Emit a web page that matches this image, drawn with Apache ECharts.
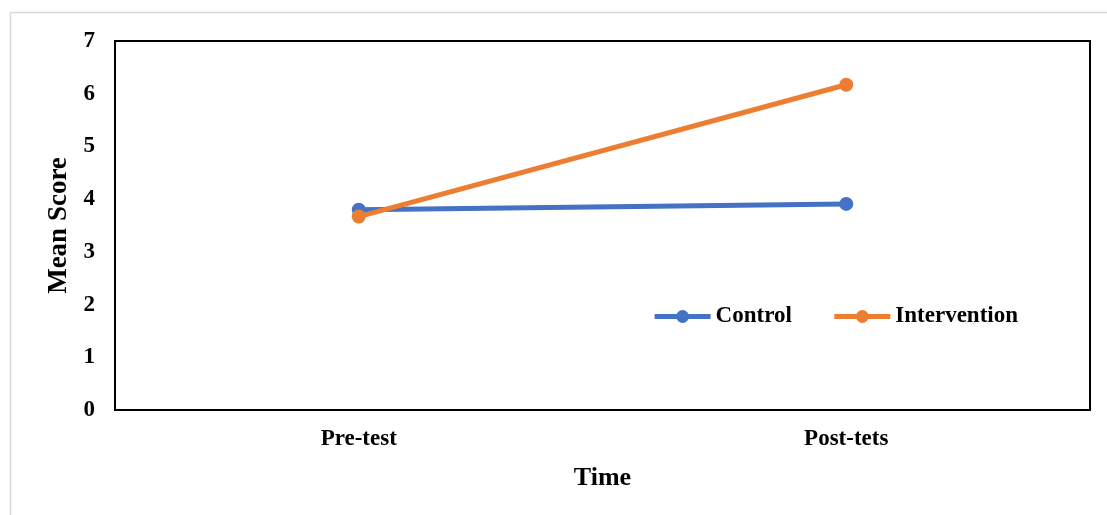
<!DOCTYPE html>
<html>
<head>
<meta charset="utf-8">
<script src="https://cdn.jsdelivr.net/npm/echarts@6/dist/echarts.min.js"></script>
<style>
  html, body { margin: 0; padding: 0; background: #fff; }
  #chart { width: 1107px; height: 515px; }
</style>
</head>
<body>
<div id="chart"></div>
<script>
// Mean scores by time point for the two groups
const timePoints = ['Pre-test', 'Post-tets'];
const controlScores = [3.80, 3.91];
const interventionScores = [3.67, 6.17];
const yTicks = [0, 1, 2, 3, 4, 5, 6, 7];

const FONT = '"Liberation Serif", "Times New Roman", serif';
const chart = echarts.init(document.getElementById('chart'), null, { renderer: 'canvas' });

chart.setOption({
  backgroundColor: '#ffffff',
  animation: false,
  graphic: [{
    type: 'rect',
    shape: { x: 10.5, y: 12.5, width: 1110, height: 520 },
    style: { fill: 'none', stroke: '#d9d9d9', lineWidth: 1.5 },
    silent: true
  }],
  grid: { left: 115, right: 17, top: 41, bottom: 105, show: true, borderColor: '#000', borderWidth: 2, backgroundColor: 'transparent' },
  legend: {
    right: 84,
    top: 300,
    itemGap: 40,
    itemWidth: 56,
    itemHeight: 16,
    lineStyle: { width: 5 },
    textStyle: { fontFamily: FONT, fontWeight: 'bold', fontSize: 23, color: '#000' },
    data: ['Control', 'Intervention']
  },
  xAxis: {
    type: 'category',
    data: timePoints,
    boundaryGap: true,
    name: 'Time',
    nameLocation: 'middle',
    nameGap: 55,
    nameTextStyle: { fontFamily: FONT, fontWeight: 'bold', fontSize: 26, color: '#000' },
    axisLine: { show: true, lineStyle: { color: '#000', width: 2 } },
    axisTick: { show: false },
    axisLabel: { fontFamily: FONT, fontWeight: 'bold', fontSize: 23, color: '#000', margin: 18 }
  },
  yAxis: {
    type: 'value',
    min: yTicks[0],
    max: yTicks[yTicks.length - 1],
    interval: 1,
    name: 'Mean Score',
    nameLocation: 'middle',
    nameGap: 40,
    nameRotate: 90,
    nameTextStyle: { fontFamily: FONT, fontWeight: 'bold', fontSize: 27, color: '#000' },
    axisLine: { show: true, lineStyle: { color: '#000', width: 2 } },
    axisTick: { show: false },
    splitLine: { show: false },
    axisLabel: { fontFamily: FONT, fontWeight: 'bold', fontSize: 23, color: '#000', margin: 20 }
  },
  series: [
    {
      name: 'Control',
      type: 'line',
      data: controlScores,
      symbol: 'circle',
      symbolSize: 14,
      lineStyle: { color: '#4472c4', width: 5 },
      itemStyle: { color: '#4472c4' }
    },
    {
      name: 'Intervention',
      type: 'line',
      data: interventionScores,
      symbol: 'circle',
      symbolSize: 14,
      lineStyle: { color: '#ed7d31', width: 5 },
      itemStyle: { color: '#ed7d31' }
    }
  ]
});
</script>
</body>
</html>
